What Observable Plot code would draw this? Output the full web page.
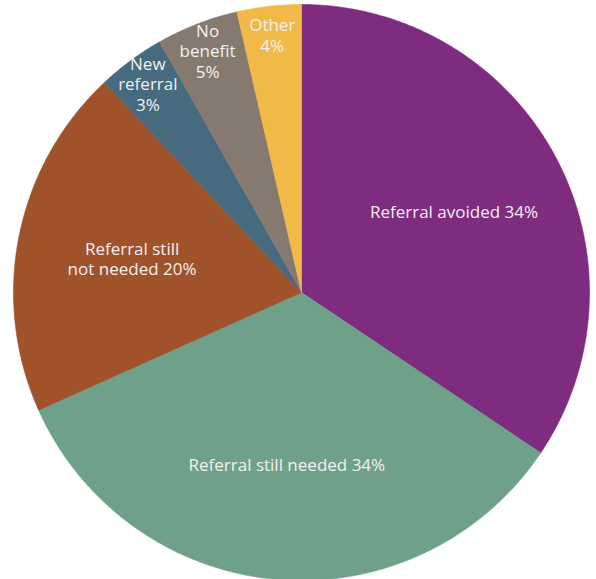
<!DOCTYPE html>
<html>
<head>
<meta charset="utf-8">
<script src="https://cdn.jsdelivr.net/npm/d3@7"></script>
<script src="https://cdn.jsdelivr.net/npm/@observablehq/plot@0.6"></script>
<style>
  html, body { margin: 0; padding: 0; background: #ffffff; overflow: hidden; }
  #chart { width: 596px; height: 579px; }
</style>
</head>
<body>
<div id="chart"></div>
<script>
// Slices, clockwise from 12 o'clock
const categories = ["Referral avoided", "Referral still needed", "Referral still not needed", "New referral", "No benefit", "Other"];
const shares = [34.4, 33.9, 19.7, 3.8, 4.6, 3.6];
const labels = ["Referral avoided 34%", "Referral still needed 34%", "Referral still\nnot needed 20%", "New\nreferral\n3%", "No\nbenefit\n5%", "Other\n4%"];
const colors = ["#7e2b80", "#6fa18a", "#a0522a", "#466a7e", "#867a70", "#f1b947"];

const total = d3.sum(shares);
const slices = [];
const labelRows = [];
let start = 0;
categories.forEach((cat, i) => {
  const a0 = start / total * 2 * Math.PI;
  const a1 = (start + shares[i]) / total * 2 * Math.PI;
  slices.push({cat, x: 0, y: 0});
  const n = Math.max(4, Math.ceil((a1 - a0) / (Math.PI / 360)));
  for (let k = 0; k <= n; k++) {
    const a = a0 + (a1 - a0) * k / n;
    slices.push({cat, x: Math.sin(a), y: Math.cos(a)});
  }
  slices.push({cat, x: 0, y: 0});
  const am = (a0 + a1) / 2;
  const rf = shares[i] > 10 ? 0.6 : 0.9;
  labelRows.push({cat, text: labels[i], x: rf * Math.sin(am), y: rf * Math.cos(am)});
  start += shares[i];
});

const chart = Plot.plot({
  width: 596,
  height: 579,
  margin: 0,
  style: {background: "#ffffff", fontFamily: "'Open Sans', sans-serif"},
  x: {domain: [-1, 1], range: [13, 589], axis: null},
  y: {domain: [-1, 1], range: [580, 4], axis: null},
  color: {domain: categories, range: colors},
  marks: [
    Plot.line(slices, {x: "x", y: "y", z: "cat", fill: "cat", stroke: "cat", strokeWidth: 0.6, curve: "linear"}),
    Plot.text(labelRows, {x: "x", y: "y", text: "text", fill: "#f3f0f0", fontSize: 17, lineHeight: 1.2, fontFamily: "'Open Sans', sans-serif", textAnchor: "middle"})
  ]
});
document.getElementById("chart").appendChild(chart);
</script>
</body>
</html>
